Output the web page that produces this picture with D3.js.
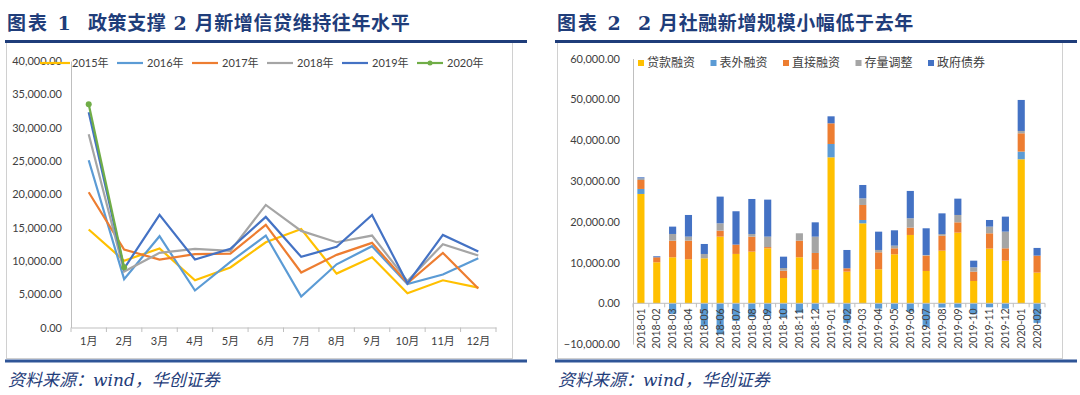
<!DOCTYPE html>
<html>
<head>
<meta charset="utf-8">
<script src="https://cdn.jsdelivr.net/npm/d3@7"></script>
<style>
  body { margin: 0; background: #fff; }
  svg { display: block; }
  .tick text { fill: #404040; }
</style>
</head>
<body>
<svg id="chart" width="1080" height="395"></svg>
<script>
// ---- chart 1: new loans by month, per year (亿元)
const months1 = ["1月","2月","3月","4月","5月","6月","7月","8月","9月","10月","11月","12月"]
const years = ["2015年","2016年","2017年","2018年","2019年","2020年"]
const loans2015 = [14708, 10017, 11867, 7079, 9008, 12794, 14781, 8096, 10529, 5136, 7089, 5978]
const loans2016 = [25100, 7266, 13700, 5556, 9855, 13800, 4636, 9487, 12200, 6513, 7946, 10400]
const loans2017 = [20300, 11700, 10200, 11000, 11100, 15400, 8255, 10900, 12700, 6632, 11200, 5844]
const loans2018 = [29000, 8393, 11200, 11800, 11500, 18400, 14500, 12800, 13800, 6970, 12500, 10800]
const loans2019 = [32300, 8858, 16900, 10200, 11800, 16600, 10600, 12100, 16900, 6613, 13900, 11400]
const loans2020 = [33500, 9057]
const yTicks1 = [0, 5000, 10000, 15000, 20000, 25000, 30000, 35000, 40000]

// ---- chart 2: social financing components (亿元)
const months2 = ["2018-01","2018-02","2018-03","2018-04","2018-05","2018-06","2018-07","2018-08","2018-09","2018-10","2018-11","2018-12",
                 "2019-01","2019-02","2019-03","2019-04","2019-05","2019-06","2019-07","2019-08","2019-09","2019-10","2019-11","2019-12",
                 "2020-01","2020-02"]
const seriesNames = ["贷款融资","表外融资","直接融资","存量调整","政府债券"]
const loanFin   = [26800, 10050, 11275, 10785, 11030, 16340, 12100, 12660, 13480, 6200, 11275, 8250,
                   35780, 7760, 19600, 8330, 12010, 16750, 7925, 12900, 17320, 5470, 13400, 10460, 35300, 7520]
const offBal    = [1225, 0, -2600, 0, -5600, -7600, -4300, -3400, -3100, -3400, -2300, -1600,
                   3270, -4800, 820, -1300, -1390, -2040, -5800, -1050, -1060, -2700, -980, -1300, 1880, -4800]
const directFin = [2200, 1225, 4085, 4575, 0, 1470, 2290, 3680, 300, 1800, 4085, 4085,
                   5065, 820, 3680, 4170, 1470, 1800, 3760, 3680, 2530, 2290, 3760, 3020, 4490, 4170]
const stockAdj  = [400, 0, 1634, 980, 1060, 1800, 0, 650, 2560, 650, 1800, 4000,
                   0, 0, 1630, 570, 650, 2290, 160, 400, 1800, 1060, 1630, 4085, 570, 0]
const govBonds  = [250, 250, 1800, 5310, 2450, 6540, 8170, 8580, 9070, 2780, 0, 3510,
                   1715, 4490, 3270, 4490, 3760, 6700, 6540, 5065, 4000, 1630, 1630, 3680, 7600, 1880]
const yTicks2 = [-10000, 0, 10000, 20000, 30000, 40000, 50000, 60000]

const navy = "#1F3D7A"
const axisGray = "#BFBFBF"
const numFont = "Lato, 'Noto Sans CJK SC', sans-serif"

let svg = d3.select("#chart")

// ---------- frames, titles, footers ----------
const panels = [
  {x0: 5, x1: 527, boxL: 6, boxR: 512, tag: "图表 1", title: "政策支撑 2 月新增信贷维持往年水平", tx: 88},
  {x0: 555, x1: 1077, boxL: 557, boxR: 1062, tag: "图表 2", title: "2 月社融新增规模小幅低于去年", tx: 638}
]

panels.forEach((p) => {
  svg.append("rect")
     .attr("x", p.boxL + 0.5).attr("y", 42.5)
     .attr("width", p.boxR - p.boxL).attr("height", 316)
     .attr("fill", "none").attr("stroke", "#D0D0D0")
  svg.append("text")
     .attr("x", p.x0 + 2).attr("y", 30)
     .text(p.tag)
     .attr("fill", navy)
     .style("font-family", "'DejaVu Serif', 'Noto Sans CJK SC', serif")
     .style("font-weight", "bold")
     .style("font-size", "19px")
     .style("letter-spacing", "2px")
  svg.append("text")
     .attr("x", p.tx).attr("y", 30)
     .text(p.title)
     .attr("fill", navy)
     .style("font-family", "'DejaVu Serif', 'Noto Sans CJK SC', serif")
     .style("font-weight", "bold")
     .style("font-size", "19px")
     .style("letter-spacing", "0.6px")
  svg.append("rect")
     .attr("x", p.x0).attr("y", 40)
     .attr("width", p.x1 - p.x0).attr("height", 3)
     .attr("fill", navy)
  svg.append("rect")
     .attr("x", p.x0).attr("y", 359.5)
     .attr("width", p.x1 - p.x0).attr("height", 3)
     .attr("fill", "#2F5597")
  svg.append("text")
     .attr("x", p.x0 + 3).attr("y", 386)
     .text("资料来源：wind，华创证券")
     .attr("fill", navy)
     .style("font-family", "'DejaVu Serif', 'Noto Sans CJK SC', serif")
     .style("font-style", "italic")
     .style("font-size", "17px")
})

// ---------- chart 1 ----------
let x1 = d3.scaleBand().domain(months1).range([71, 496])
let y1 = d3.scaleLinear().domain([0, 40000]).range([327.5, 61])

let g1 = svg.append("g")

let yAxis1 = g1.append("g")
  .attr("transform", "translate(71,0)")
  .call(d3.axisLeft(y1).tickValues(yTicks1).tickFormat(d3.format(",.2f")).tickSize(0).tickPadding(9))
yAxis1.select(".domain").attr("stroke", axisGray)
yAxis1.selectAll("text").style("font-family", numFont).style("font-size", "11px")

let xAxis1 = g1.append("g")
  .attr("transform", "translate(0,327.5)")
  .call(d3.axisBottom(x1).tickSize(0).tickPadding(10))
xAxis1.select(".domain").attr("stroke", axisGray)
xAxis1.selectAll("text").style("font-family", numFont).style("font-size", "11px")

g1.selectAll(".bound1")
  .data(months1.concat(["end"]))
  .enter()
  .append("line")
  .attr("x1", (d) => d === "end" ? x1.range()[1] : x1(d))
  .attr("x2", (d) => d === "end" ? x1.range()[1] : x1(d))
  .attr("y1", 327.5).attr("y2", 332)
  .attr("stroke", axisGray)

const lineData = [
  {name: "2015年", color: "#FFC000", values: loans2015},
  {name: "2016年", color: "#5B9BD5", values: loans2016},
  {name: "2017年", color: "#ED7D31", values: loans2017},
  {name: "2018年", color: "#A5A5A5", values: loans2018},
  {name: "2019年", color: "#4472C4", values: loans2019},
  {name: "2020年", color: "#70AD47", values: loans2020}
]

let line1 = d3.line()
  .x((d, i) => x1(months1[i]) + x1.bandwidth() / 2)
  .y((d) => y1(d))

g1.selectAll(".series")
  .data(lineData)
  .enter()
  .append("path")
  .attr("d", (d) => line1(d.values))
  .attr("fill", "none")
  .attr("stroke", (d) => d.color)
  .attr("stroke-width", 2.2)
  .attr("stroke-linejoin", "miter")

g1.selectAll(".dot2020")
  .data(loans2020)
  .enter()
  .append("circle")
  .attr("cx", (d, i) => x1(months1[i]) + x1.bandwidth() / 2)
  .attr("cy", (d) => y1(d))
  .attr("r", 3)
  .attr("fill", "#70AD47")

// legend chart 1
let legend1 = g1.selectAll(".leg1")
  .data(lineData)
  .enter()
  .append("g")
  .attr("transform", (d, i) => "translate(" + (i === 0 ? 40 : 42 + i * 75) + ",63)")

legend1.append("line")
  .attr("x1", 0).attr("x2", (d, i) => i === 0 ? 30 : 26)
  .attr("stroke", (d) => d.color)
  .attr("stroke-width", 2.2)
legend1.filter((d) => d.name === "2020年")
  .append("circle")
  .attr("cx", 13).attr("r", 2.5)
  .attr("fill", "#70AD47")
legend1.append("text")
  .attr("x", (d, i) => i === 0 ? 32 : 30)
  .attr("dy", "0.35em")
  .text((d) => d.name)
  .attr("fill", "#404040")
  .style("font-family", numFont)
  .style("font-size", "11px")

// ---------- chart 2 ----------
let x2 = d3.scaleBand().domain(months2).range([633, 1045]).paddingInner(0.55).paddingOuter(0.275)
let y2 = d3.scaleLinear().domain([-10000, 60000]).range([344.1, 58.5])

let g2 = svg.append("g")

let yAxis2 = g2.append("g")
  .attr("transform", "translate(633,0)")
  .call(d3.axisLeft(y2).tickValues(yTicks2).tickFormat(d3.format(",.2f")).tickSize(0).tickPadding(13))
yAxis2.select(".domain").attr("stroke", axisGray)
yAxis2.selectAll("text").style("font-family", numFont).style("font-size", "11px")

const colors2 = ["#FFC000", "#5B9BD5", "#ED7D31", "#A5A5A5", "#4472C4"]
const table2 = months2.map((m, i) => ({
  month: m,
  "贷款融资": loanFin[i],
  "表外融资": offBal[i],
  "直接融资": directFin[i],
  "存量调整": stockAdj[i],
  "政府债券": govBonds[i]
}))

let stack2 = d3.stack().keys(seriesNames).offset(d3.stackOffsetDiverging)
let layers = stack2(table2)

g2.selectAll(".layer")
  .data(layers)
  .enter()
  .append("g")
  .attr("fill", (d, i) => colors2[i])
  .selectAll("rect")
  .data((d) => d)
  .enter()
  .append("rect")
  .attr("x", (d) => x2(d.data.month))
  .attr("width", x2.bandwidth())
  .attr("y", (d) => y2(Math.max(d[0], d[1])))
  .attr("height", (d) => Math.abs(y2(d[0]) - y2(d[1])))

let xAxis2 = g2.append("g")
  .attr("transform", "translate(0," + y2(0) + ")")
xAxis2.append("line")
  .attr("x1", 633).attr("x2", 1045)
  .attr("stroke", axisGray)
xAxis2.selectAll(".bound2")
  .data(d3.range(months2.length + 1))
  .enter()
  .append("line")
  .attr("x1", (d) => 633 + d * (1045 - 633) / months2.length)
  .attr("x2", (d) => 633 + d * (1045 - 633) / months2.length)
  .attr("y1", 0).attr("y2", 4)
  .attr("stroke", axisGray)
xAxis2.selectAll(".lab2")
  .data(months2)
  .enter()
  .append("text")
  .attr("transform", (d) => "translate(" + (x2(d) + x2.bandwidth() / 2) + ",5) rotate(-90)")
  .attr("text-anchor", "end")
  .attr("dy", "0.35em")
  .text((d) => d)
  .attr("fill", "#404040")
  .style("font-family", numFont)
  .style("font-size", "10.5px")

// legend chart 2
let legend2 = g2.selectAll(".leg2")
  .data(seriesNames)
  .enter()
  .append("g")
  .attr("transform", (d, i) => "translate(" + (638 + i * 72.5) + ",63)")
legend2.append("rect")
  .attr("x", 0).attr("y", -3)
  .attr("width", 6).attr("height", 6)
  .attr("fill", (d, i) => colors2[i])
legend2.append("text")
  .attr("x", 9)
  .attr("dy", "0.35em")
  .text((d) => d)
  .attr("fill", "#404040")
  .style("font-family", "'Noto Sans CJK SC', sans-serif")
  .style("font-size", "12px")
</script>
</body>
</html>
